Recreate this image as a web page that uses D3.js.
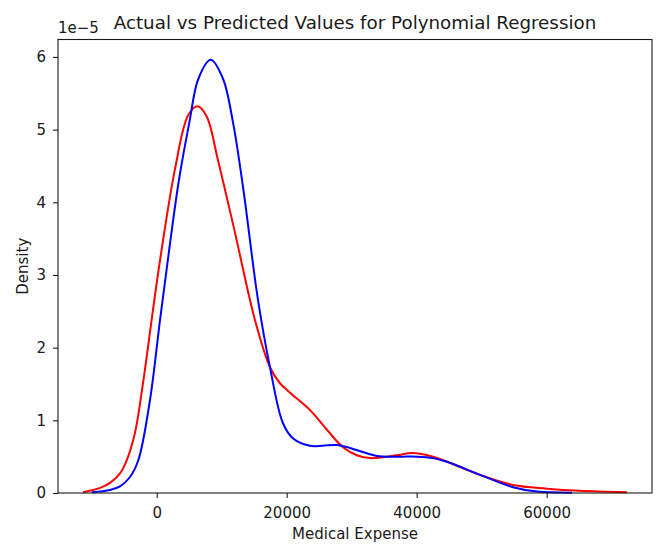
<!DOCTYPE html>
<html lang="en">
<head>
  <meta charset="UTF-8">
  <title>Actual vs Predicted Values for Polynomial Regression</title>
  <style>
    body {
      margin: 0;
      background: #fff;
    }
    svg text {
      font-family: "DejaVu Sans", sans-serif;
      fill: #1a1a1a;
    }
  </style>
</head>
<body>
  <svg id="chart" width="657" height="544"></svg>

  <script src="https://d3js.org/d3.v7.min.js"></script>
  <script>
    // densities are in units of 1e-5 (matplotlib offset text)
    const actualX = [-11340, -8720, -7180, -5650, -4615, -3340, -2110, -720, 510, 2800, 4860, 6310,
      7690, 9430, 12000, 15120, 17430, 18970, 20520, 23590, 26200, 28660, 30800, 32820, 36970, 39280,
      42510, 44660, 49740, 54820, 60050, 65130, 72360];
    const actualDensity = [0.01, 0.07, 0.14, 0.27, 0.45, 0.83, 1.51, 2.42, 3.2, 4.45, 5.2, 5.32,
      5.18, 4.58, 3.6, 2.38, 1.73, 1.51, 1.38, 1.14, 0.87, 0.63, 0.52, 0.48, 0.52, 0.55,
      0.5, 0.43, 0.25, 0.11, 0.06, 0.03, 0.01];

    const predictedX = [-10000, -7180, -5650, -4110, -2830, -1030, 510, 2000, 3430, 5046, 6415, 8310,
      10200, 11740, 13300, 15580, 17430, 19430, 21000, 23590, 25500, 27740, 29740, 33890, 37430, 40050,
      42510, 44660, 49740, 54820, 58510, 63900];
    const predictedDensity = [0.01, 0.04, 0.09, 0.22, 0.45, 1.28, 2.38, 3.4, 4.31, 5.11, 5.7, 5.96,
      5.7, 5.1, 4.2, 2.66, 1.73, 0.96, 0.75, 0.65, 0.65, 0.66, 0.62, 0.51, 0.5, 0.5,
      0.48, 0.43, 0.25, 0.08, 0.02, 0.005];

    const xTicks = [0, 20000, 40000, 60000];
    const yTicks = [0, 1, 2, 3, 4, 5, 6];

    const margin = { left: 58, right: 5, top: 39.5, bottom: 51 };
    const svg = d3.select("#chart");
    const width = +svg.attr("width");
    const height = +svg.attr("height");

    const x = d3.scaleLinear()
      .domain([-15185, 76210])
      .range([margin.left, width - margin.right]);
    const y = d3.scaleLinear()
      .domain([0, 6.24])
      .range([height - margin.bottom, margin.top]);

    const series = [
      { xs: actualX, ds: actualDensity, color: "#ff0000" },
      { xs: predictedX, ds: predictedDensity, color: "#0000ff" }
    ];

    const line = d3.line()
      .x(d => x(d[0]))
      .y(d => y(Math.max(0, d[1])))
      .curve(d3.curveCatmullRom.alpha(0.5));

    series.forEach(s => {
      svg.append("path")
        .datum(d3.zip(s.xs, s.ds))
        .attr("fill", "none")
        .attr("stroke", s.color)
        .attr("stroke-width", 2)
        .attr("d", line);
    });

    const xAxis = svg.append("g")
      .attr("transform", `translate(0,${height - margin.bottom})`)
      .call(d3.axisBottom(x).tickValues(xTicks).tickFormat(d3.format("d")).tickSize(5).tickPadding(9));
    const yAxis = svg.append("g")
      .attr("transform", `translate(${margin.left},0)`)
      .call(d3.axisLeft(y).tickValues(yTicks).tickFormat(d3.format("d")).tickSize(5).tickPadding(7));

    [xAxis, yAxis].forEach(g => {
      g.select(".domain").remove();
      g.selectAll(".tick line").attr("stroke", "#1a1a1a").attr("stroke-width", 1.1);
      g.selectAll(".tick text").style("font-size", "15px").attr("fill", "#1a1a1a");
    });

    // spines
    svg.append("rect")
      .attr("x", margin.left)
      .attr("y", margin.top)
      .attr("width", width - margin.right - margin.left)
      .attr("height", height - margin.bottom - margin.top)
      .attr("fill", "none")
      .attr("stroke", "#1a1a1a")
      .attr("stroke-width", 1.1);

    svg.append("text")
      .attr("x", (margin.left + width - margin.right) / 2)
      .attr("y", 29)
      .attr("text-anchor", "middle")
      .style("font-size", "18.3px")
      .text("Actual vs Predicted Values for Polynomial Regression");

    svg.append("text")
      .attr("x", margin.left)
      .attr("y", 33)
      .style("font-size", "15px")
      .text("1e\u22125");

    svg.append("text")
      .attr("x", (margin.left + width - margin.right) / 2)
      .attr("y", 539)
      .attr("text-anchor", "middle")
      .style("font-size", "15px")
      .text("Medical Expense");

    svg.append("text")
      .attr("transform", `translate(28,${(margin.top + height - margin.bottom) / 2}) rotate(-90)`)
      .attr("text-anchor", "middle")
      .style("font-size", "15px")
      .text("Density");
  </script>
</body>
</html>
